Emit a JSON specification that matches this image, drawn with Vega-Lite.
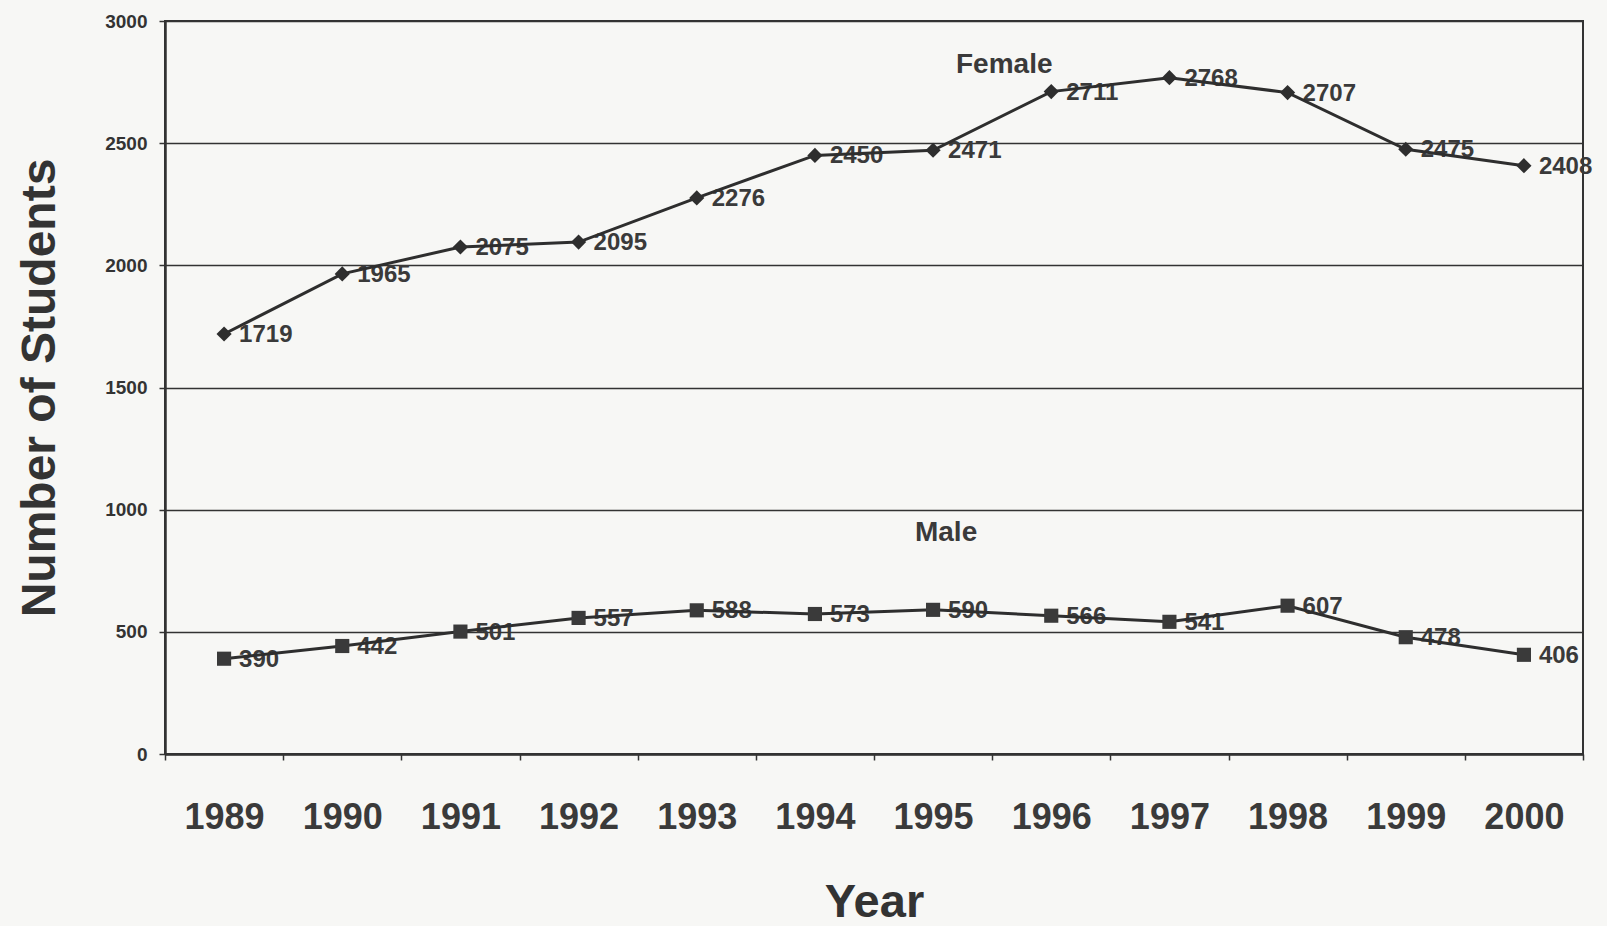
{
  "$schema": "https://vega.github.io/schema/vega-lite/v6.json",
  "width": 1418,
  "height": 733,
  "autosize": {"type": "none"},
  "padding": {"left": 165, "top": 21, "right": 24, "bottom": 172},
  "background": "#f7f7f5",
  "config": {
    "font": "Liberation Sans",
    "view": {"stroke": "#333333", "strokeWidth": 2}
  },
  "datasets": {
    "students": [
      {"year": "1989", "gender": "Female", "count": 1719},
      {"year": "1990", "gender": "Female", "count": 1965},
      {"year": "1991", "gender": "Female", "count": 2075},
      {"year": "1992", "gender": "Female", "count": 2095},
      {"year": "1993", "gender": "Female", "count": 2276},
      {"year": "1994", "gender": "Female", "count": 2450},
      {"year": "1995", "gender": "Female", "count": 2471},
      {"year": "1996", "gender": "Female", "count": 2711},
      {"year": "1997", "gender": "Female", "count": 2768},
      {"year": "1998", "gender": "Female", "count": 2707},
      {"year": "1999", "gender": "Female", "count": 2475},
      {"year": "2000", "gender": "Female", "count": 2408},
      {"year": "1989", "gender": "Male", "count": 390},
      {"year": "1990", "gender": "Male", "count": 442},
      {"year": "1991", "gender": "Male", "count": 501},
      {"year": "1992", "gender": "Male", "count": 557},
      {"year": "1993", "gender": "Male", "count": 588},
      {"year": "1994", "gender": "Male", "count": 573},
      {"year": "1995", "gender": "Male", "count": 590},
      {"year": "1996", "gender": "Male", "count": 566},
      {"year": "1997", "gender": "Male", "count": 541},
      {"year": "1998", "gender": "Male", "count": 607},
      {"year": "1999", "gender": "Male", "count": 478},
      {"year": "2000", "gender": "Male", "count": 406}
    ],
    "names": [
      {"year": "1996", "gender": "Female", "count": 2820},
      {"year": "1995", "gender": "Male", "count": 905}
    ]
  },
  "encoding": {
    "x": {
      "field": "year",
      "type": "ordinal",
      "bandPosition": 0.5,
      "scale": {"type": "band", "paddingInner": 0, "paddingOuter": 0},
      "axis": {
        "title": "Year",
        "titleFont": "Liberation Sans",
        "titleFontSize": 47,
        "titleFontWeight": "bold",
        "titleColor": "#333333",
        "titlePadding": 44,
        "labelAngle": 0,
        "labelFontSize": 36,
        "labelFontWeight": "bold",
        "labelColor": "#3a3a3a",
        "labelPadding": 40,
        "tickBand": "extent",
        "tickSize": 6,
        "tickColor": "#333333",
        "tickWidth": 1.5,
        "domainColor": "#333333",
        "domainWidth": 2.5
      }
    },
    "y": {
      "field": "count",
      "type": "quantitative",
      "scale": {"domain": [0, 3000]},
      "axis": {
        "title": "Number of Students",
        "titleFont": "Liberation Sans",
        "titleFontSize": 48,
        "titleFontWeight": "bold",
        "titleColor": "#333333",
        "titlePadding": 40,
        "values": [0, 500, 1000, 1500, 2000, 2500, 3000],
        "format": "d",
        "labelFontSize": 19,
        "labelFontWeight": "bold",
        "labelColor": "#333333",
        "labelPadding": 12,
        "tickSize": 6,
        "tickColor": "#333333",
        "tickWidth": 1.5,
        "grid": true,
        "gridColor": "#333333",
        "gridWidth": 1.5,
        "domainColor": "#333333",
        "domainWidth": 2.5
      }
    }
  },
  "layer": [
    {
      "data": {"name": "students"},
      "mark": {"type": "text", "align": "left", "baseline": "middle", "dx": 15, "dy": 1, "fontSize": 24, "fontWeight": "bold", "color": "#3a3a3a"},
      "encoding": {"text": {"field": "count", "type": "quantitative", "format": "d"}}
    },
    {
      "data": {"name": "students"},
      "mark": {"type": "line", "color": "#2e2e2e", "strokeWidth": 3},
      "encoding": {"detail": {"field": "gender"}}
    },
    {
      "data": {"name": "students"},
      "transform": [{"filter": "datum.gender === 'Female'"}],
      "mark": {"type": "point", "shape": "diamond", "filled": true, "size": 230, "color": "#2e2e2e", "opacity": 1},
      "encoding": {}
    },
    {
      "data": {"name": "students"},
      "transform": [{"filter": "datum.gender === 'Male'"}],
      "mark": {"type": "point", "shape": "square", "filled": true, "size": 200, "color": "#3a3a3a", "opacity": 1},
      "encoding": {}
    },
    {
      "data": {"name": "names"},
      "transform": [{"filter": "datum.gender === 'Female'"}],
      "mark": {"type": "text", "align": "center", "baseline": "middle", "dx": -47, "fontSize": 28, "fontWeight": "bold", "color": "#3a3a3a"},
      "encoding": {"text": {"field": "gender"}}
    },
    {
      "data": {"name": "names"},
      "transform": [{"filter": "datum.gender === 'Male'"}],
      "mark": {"type": "text", "align": "center", "baseline": "middle", "dx": 13, "fontSize": 28, "fontWeight": "bold", "color": "#3a3a3a"},
      "encoding": {"text": {"field": "gender"}}
    }
  ]
}
